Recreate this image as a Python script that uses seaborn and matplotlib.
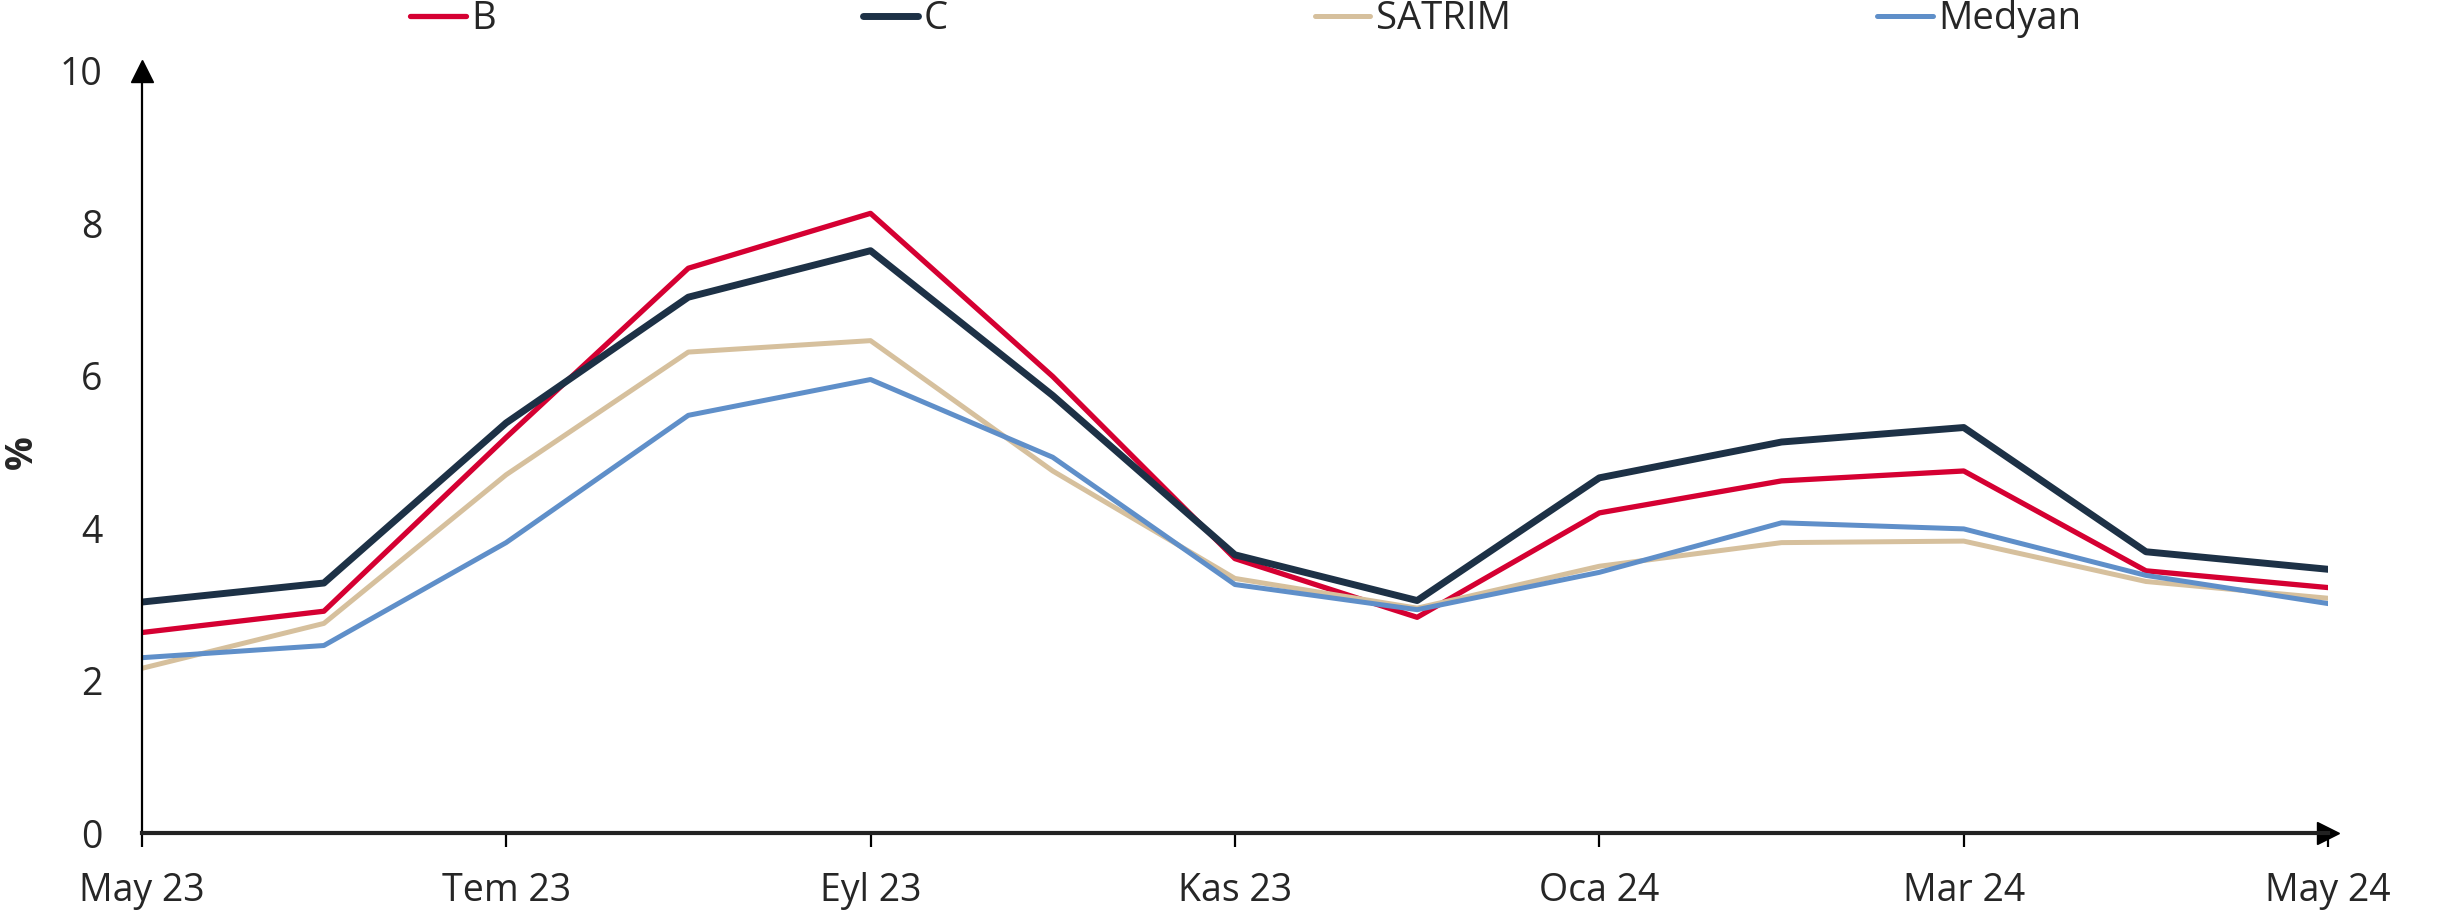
import pandas as pd
import seaborn as sns
import matplotlib.pyplot as plt

aylar = ["May 23", "Haz 23", "Tem 23", "Ağu 23", "Eyl 23", "Eki 23", "Kas 23",
         "Ara 23", "Oca 24", "Şub 24", "Mar 24", "Nis 24", "May 24"]

seri_b = [2.63, 2.91, 5.19, 7.41, 8.13, 5.99, 3.60, 2.83, 4.20, 4.62, 4.75, 3.44, 3.22]
seri_c = [3.03, 3.28, 5.38, 7.03, 7.64, 5.74, 3.65, 3.05, 4.66, 5.13, 5.32, 3.69, 3.46]
satrim = [2.16, 2.75, 4.70, 6.31, 6.46, 4.75, 3.34, 2.95, 3.50, 3.81, 3.83, 3.30, 3.08]
medyan = [2.30, 2.46, 3.81, 5.48, 5.95, 4.93, 3.26, 2.93, 3.42, 4.07, 3.99, 3.38, 3.01]

seri_adlari = ["B", "C", "SATRIM", "Medyan"]
renkler = {"B": "#d50032", "C": "#1d3146", "SATRIM": "#d6c09d", "Medyan": "#5f8fc9"}
kalinlik = {"B": 3.8, "C": 5.0, "SATRIM": 3.6, "Medyan": 3.6}

# uzun formata cevir
satirlar = []
for ad, degerler in zip(seri_adlari, [seri_b, seri_c, satrim, medyan]):
    for i, v in enumerate(degerler):
        satirlar.append({"ay": i, "seri": ad, "deger": v})
veri = pd.DataFrame(satirlar)

sns.set_style("white")
plt.rcParams["font.family"] = ["Open Sans", "DejaVu Sans"]
plt.rcParams["font.size"] = 27

fig = plt.figure(figsize=(24.43, 9.15), dpi=100)
ax = fig.add_axes([0.058, 0.0896, 0.895, 0.833])

for ad in seri_adlari:
    sns.lineplot(data=veri[veri["seri"] == ad], x="ay", y="deger", ax=ax,
                 color=renkler[ad], linewidth=kalinlik[ad], label=ad,
                 legend=False)

ax.set_xlim(0, len(aylar) - 1)
ax.set_ylim(0, 10)
ax.set_yticks([0, 2, 4, 6, 8, 10])
ax.set_xticks(range(0, len(aylar), 2))
ax.set_xticklabels(aylar[::2])
ax.set_xlabel("")
ax.set_ylabel("%", fontweight="bold", labelpad=14, fontsize=27)

for s in ["top", "right"]:
    ax.spines[s].set_visible(False)
ax.spines["left"].set_linewidth(1.6)
ax.spines["left"].set_color("black")
ax.spines["bottom"].set_linewidth(3)
ax.spines["bottom"].set_color("#222222")

ax.tick_params(axis="x", direction="out", length=10, width=1.6, color="black",
               pad=18, labelsize=27, bottom=True)
ax.tick_params(axis="y", length=0, pad=28, labelsize=27, left=False)

# eksen oklari
ax.plot(0, 1, marker="^", markersize=16, color="black", transform=ax.transAxes,
        clip_on=False)
ax.plot(1, 0, marker=">", markersize=16, color="black", transform=ax.transAxes,
        clip_on=False)

fig.legend(loc="center", bbox_to_anchor=(0.51, 0.979), ncol=4, frameon=False,
           handlelength=1.45, handletextpad=0.15, columnspacing=9.6, fontsize=27.5)

fig.savefig("out.png", dpi=100)
